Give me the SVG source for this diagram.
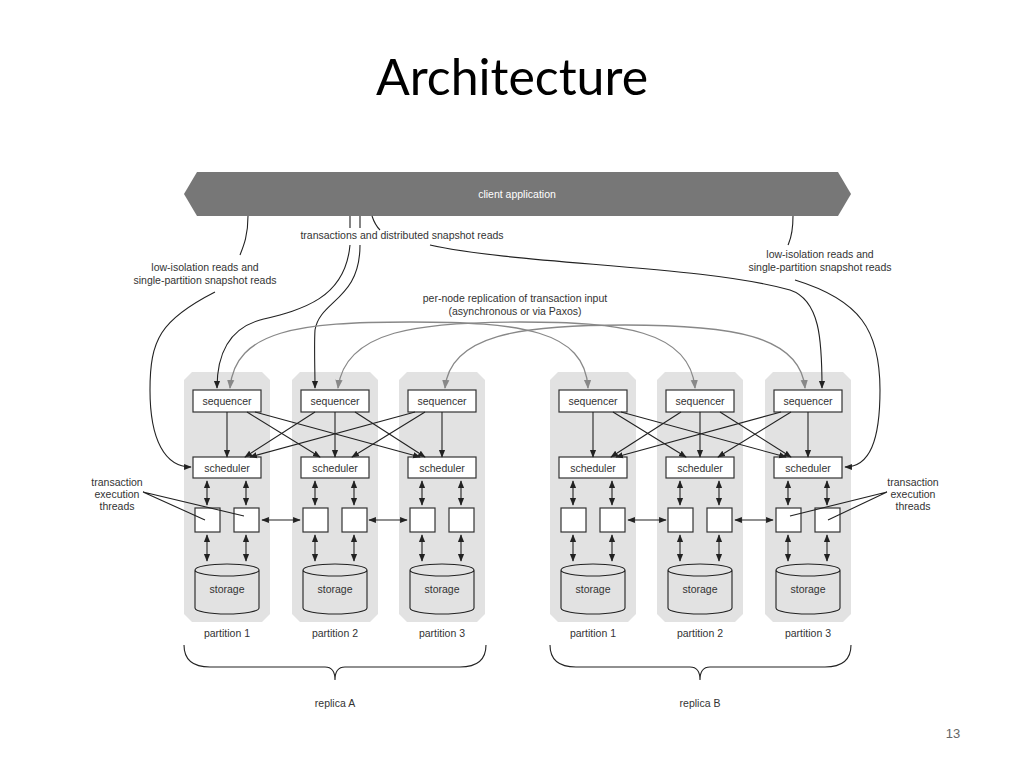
<svg xmlns="http://www.w3.org/2000/svg" width="1024" height="768" viewBox="0 0 1024 768">
<style>
text{font-family:"Liberation Sans",Arial,sans-serif;fill:#333;font-size:10.5px;text-anchor:middle}
.box{fill:#fff;stroke:#333;stroke-width:1.2}
.panel{fill:#e2e2e2}
.k{fill:none;stroke:#222;stroke-width:1.1}
.g{fill:none;stroke:#888;stroke-width:1.3}
.ka{fill:none;stroke:#222;stroke-width:1.1;marker-end:url(#a)}
.kb{fill:none;stroke:#222;stroke-width:1.1;marker-start:url(#a);marker-end:url(#a)}
</style>
<defs>
<marker id="a" viewBox="0 0 10 10" refX="9" refY="5" markerWidth="7" markerHeight="7" orient="auto-start-reverse"><path d="M0,1 L10,5 L0,9 z" fill="#222"/></marker>
<marker id="ga" viewBox="0 0 10 10" refX="9" refY="5" markerWidth="7" markerHeight="7" orient="auto-start-reverse"><path d="M0,1 L10,5 L0,9 z" fill="#888"/></marker>
<g id="part">
<polygon class="panel" points="-35,-250 35,-250 43,-242 43,-8 35,0 -35,0 -43,-8 -43,-242"/>
<rect class="box" x="-34" y="-232" width="68" height="22"/>
<text y="-217">sequencer</text>
<rect class="box" x="-34" y="-165" width="68" height="21"/>
<text y="-150">scheduler</text>
<rect class="box" x="-32" y="-114" width="25" height="24"/>
<rect class="box" x="7" y="-114" width="25" height="24"/>
<path class="k" d="M-32,-52 V-14 A32,6 0 0 0 32,-14 V-52 A32,6 0 0 0 -32,-52 A32,6 0 0 0 32,-52"/>
<text y="-29">storage</text>
<path class="kb" d="M-20,-141 V-117"/>
<path class="kb" d="M19,-141 V-117"/>
<path class="kb" d="M-20,-87 V-61"/>
<path class="kb" d="M19,-87 V-61"/>
</g>
</defs>
<rect width="1024" height="768" fill="#fff"/>
<text x="512" y="95" style="font-family:Lato,'Open Sans',sans-serif;font-size:50px;fill:#000">Architecture</text>
<text x="953" y="738" style="font-size:13px;fill:#666">13</text>

<g id="client">
<polygon points="197,172 838,172 851,194 838,216 197,216 184,194" fill="#777"/>
<text x="517" y="198" style="fill:#fff">client application</text>
</g>

<g id="partitions">
<use href="#part" x="227" y="622"/>
<use href="#part" x="335" y="622"/>
<use href="#part" x="442" y="622"/>
<use href="#part" x="593" y="622"/>
<use href="#part" x="700" y="622"/>
<use href="#part" x="808" y="622"/>
</g>

<g id="labels">
<text x="227" y="637">partition 1</text>
<text x="335" y="637">partition 2</text>
<text x="442" y="637">partition 3</text>
<text x="593" y="637">partition 1</text>
<text x="700" y="637">partition 2</text>
<text x="808" y="637">partition 3</text>
<text x="335" y="707">replica A</text>
<text x="700" y="707">replica B</text>
<text x="402" y="239">transactions and distributed snapshot reads</text>
<text x="205" y="271">low-isolation reads and</text>
<text x="205" y="284">single-partition snapshot reads</text>
<text x="820" y="258">low-isolation reads and</text>
<text x="820" y="271">single-partition snapshot reads</text>
<text x="515" y="302">per-node replication of transaction input</text>
<text x="515" y="315">(asynchronous or via Paxos)</text>
<text x="117" y="486">transaction</text>
<text x="117" y="498">execution</text>
<text x="117" y="510">threads</text>
<text x="913" y="486">transaction</text>
<text x="913" y="498">execution</text>
<text x="913" y="510">threads</text>
</g>

<g id="connectors">
<path class="ka" d="M227,412 V457"/><path class="ka" d="M247,412 L320,457"/><path class="ka" d="M255,412 L420,457"/>
<path class="ka" d="M315,412 L245,457"/><path class="ka" d="M335,412 V457"/><path class="ka" d="M355,412 L425,457"/>
<path class="ka" d="M415,412 L250,457"/><path class="ka" d="M425,412 L352,457"/><path class="ka" d="M442,412 V457"/>
<path class="ka" d="M593,412 V457"/><path class="ka" d="M613,412 L686,457"/><path class="ka" d="M621,412 L786,457"/>
<path class="ka" d="M681,412 L611,457"/><path class="ka" d="M700,412 V457"/><path class="ka" d="M720,412 L791,457"/>
<path class="ka" d="M781,412 L616,457"/><path class="ka" d="M791,412 L718,457"/><path class="ka" d="M808,412 V457"/>
<path class="kb" d="M262,520 H300"/><path class="kb" d="M369,520 H407"/>
<path class="kb" d="M628,520 H666"/><path class="kb" d="M735,520 H773"/>
<path class="k" d="M143,492 L205,520 M143,492 L244,516 M887,492 L790,516 M887,492 L828,520"/>
<path class="k" d="M184,645 Q184,667 210,667 L325,667 Q335,667 335,680 Q335,667 345,667 L460,667 Q486,667 486,645"/>
<path class="k" d="M550,645 Q550,667 576,667 L690,667 Q700,667 700,680 Q700,667 710,667 L825,667 Q851,667 851,645"/>
<path class="k" d="M248,216 C248,235 244,245 240,255"/>
<path class="ka" d="M215,292 C160,320 150,340 150,390 C150,440 165,467 191,467"/>
<path class="k" d="M793,216 C793,235 790,240 788,245"/>
<path class="ka" d="M795,280 C860,300 880,330 880,390 C880,440 870,467 845,467"/>
<path class="k" d="M350,216 V228 M360,216 V228 M372,216 C374,222 376,226 380,230"/>
<path class="ka" d="M350,245 C345,300 300,310 260,320 C225,330 217,360 217,388"/>
<path class="ka" d="M360,245 C360,300 320,300 315,330 C314,345 315,370 315,388"/>
<path class="ka" d="M430,245 C520,265 700,265 790,290 C820,300 822,340 822,388"/>
<path class="g" d="M230,388 C235,330 300,322 410,322 C520,322 585,330 588,388" marker-start="url(#ga)" marker-end="url(#ga)"/>
<path class="g" d="M338,388 C345,330 420,322 520,322 C620,322 690,330 695,388" marker-start="url(#ga)" marker-end="url(#ga)"/>
<path class="g" d="M445,388 C450,335 520,325 625,325 C730,325 800,335 805,388" marker-start="url(#ga)" marker-end="url(#ga)"/>
</g>
</svg>
